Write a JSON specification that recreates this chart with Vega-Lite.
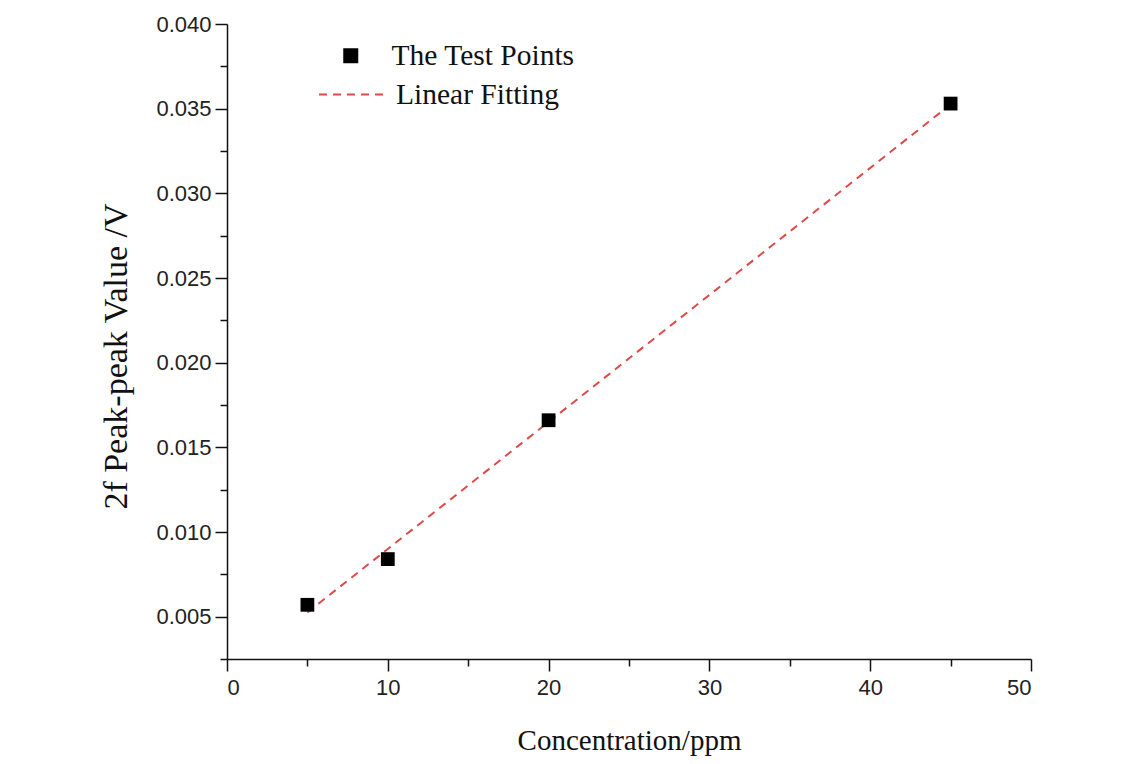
{
  "$schema": "https://vega.github.io/schema/vega-lite/v6.json",
  "width": 804,
  "height": 635,
  "autosize": {"type": "none"},
  "padding": {"left": 227, "top": 24, "right": 111, "bottom": 105},
  "background": "white",
  "config": {
    "view": {"stroke": null},
    "axis": {
      "domainColor": "#111",
      "domainWidth": 1.5,
      "tickColor": "#111",
      "tickWidth": 1.5,
      "labelFont": "Liberation Sans",
      "labelFontSize": 22,
      "labelColor": "#222",
      "titleFont": "Liberation Serif",
      "titleFontWeight": "normal",
      "titleColor": "#111",
      "grid": false
    },
    "legend": {
      "labelFont": "Liberation Serif",
      "labelFontSize": 29.5,
      "labelColor": "#111",
      "labelLimit": 400
    }
  },
  "datasets": {
    "points": [
      {"conc": 5, "value": 0.0057, "series": "The Test Points"},
      {"conc": 10, "value": 0.0084, "series": "The Test Points"},
      {"conc": 20, "value": 0.0166, "series": "The Test Points"},
      {"conc": 45, "value": 0.0353, "series": "The Test Points"}
    ],
    "fit": [
      {"conc": 5, "value": 0.00525, "series": "Linear Fitting"},
      {"conc": 45, "value": 0.03525, "series": "Linear Fitting"}
    ]
  },
  "encoding": {
    "x": {
      "field": "conc",
      "type": "quantitative",
      "scale": {"domain": [0, 50], "nice": false, "zero": false},
      "axis": {
        "title": "Concentration/ppm",
        "titleFontSize": 29,
        "values": [0, 5, 10, 15, 20, 25, 30, 35, 40, 45, 50],
        "labelExpr": "datum.value % 10 === 0 ? datum.label : ''",
        "tickSize": {"condition": {"test": "datum.value % 10 !== 0", "value": 7}, "value": 12},
        "labelPadding": 6,
        "titlePadding": 28
      }
    },
    "y": {
      "field": "value",
      "type": "quantitative",
      "scale": {"domain": [0.0025, 0.04], "nice": false, "zero": false},
      "axis": {
        "title": "2f Peak-peak Value /V",
        "titleFontSize": 34,
        "titleY": 332,
        "values": [0.0025, 0.005, 0.0075, 0.01, 0.0125, 0.015, 0.0175, 0.02, 0.0225, 0.025, 0.0275, 0.03, 0.0325, 0.035, 0.0375, 0.04],
        "format": ".3f",
        "labelExpr": "abs(round(datum.value * 200) - datum.value * 200) > 0.01 ? '' : datum.label",
        "tickSize": {"condition": {"test": "abs(round(datum.value * 200) - datum.value * 200) > 0.01", "value": 7}, "value": 12},
        "labelPadding": 4,
        "titlePadding": 22
      }
    }
  },
  "layer": [
    {
      "data": {"name": "fit"},
      "mark": {"type": "line", "strokeWidth": 2, "color": "#de4a4a"},
      "encoding": {
        "strokeDash": {
          "field": "series",
          "type": "nominal",
          "scale": {"domain": ["Linear Fitting"], "range": [[8, 6]]},
          "legend": {
            "title": null,
            "orient": "none",
            "legendX": 91,
            "legendY": 37,
            "symbolType": "stroke",
            "symbolSize": 4225,
            "symbolStrokeWidth": 2,
            "symbolStrokeColor": "#de4a4a",
            "labelOffset": 11
          }
        }
      }
    },
    {
      "data": {"name": "points"},
      "mark": {"type": "point", "filled": true, "size": 190, "opacity": 1, "color": "#000000"},
      "encoding": {
        "shape": {
          "field": "series",
          "type": "nominal",
          "scale": {"domain": ["The Test Points"], "range": ["square"]},
          "legend": {
            "title": null,
            "orient": "none",
            "legendX": 109,
            "legendY": 17,
            "symbolSize": 225,
            "symbolFillColor": "#000000",
            "symbolStrokeColor": "#000000",
            "symbolStrokeWidth": 0,
            "labelOffset": 26
          }
        }
      }
    }
  ]
}
